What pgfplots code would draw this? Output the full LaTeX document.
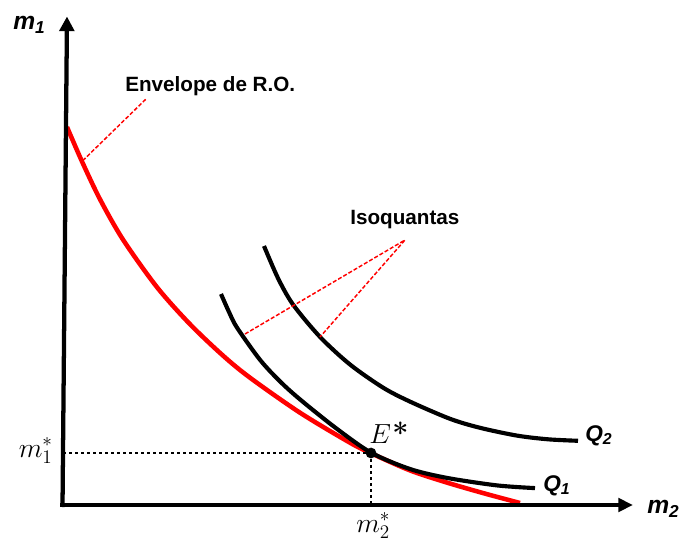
\documentclass[border=0pt]{standalone}
\usepackage{pgfplots}
\pgfplotsset{compat=1.18}
\usetikzlibrary{arrows.meta}
\usepackage{fontspec}
\setmainfont{Liberation Sans}

\definecolor{envred}{RGB}{255,0,0}

\begin{document}
\begin{tikzpicture}
\begin{axis}[
  x=75pt, y=75pt,
  xmin=0, xmax=5.8, ymin=0, ymax=4.9,
  axis lines=none, clip=false,
]
% frame of the figure
\coordinate (bl) at (axis cs:-0.63,-0.34);
\coordinate (tr) at (axis cs:6.17,5.05);

% envelope of the optimal routes
\addplot[envred, line width=3.4pt, smooth] coordinates {
  (0.04,3.78) (0.19,3.435) (0.37,3.057) (0.60,2.654) (0.94,2.178)
  (1.27,1.808) (1.60,1.494) (1.87,1.273) (2.37,0.923) (2.87,0.623)
  (3.08,0.518) (3.47,0.346) (3.84,0.224) (4.22,0.114) (4.57,0.02)
};

% isoquant Q1
\addplot[black, line width=3.1pt, smooth] coordinates {
  (1.58,2.11) (1.66,1.93) (1.74,1.774) (1.97,1.452) (2.17,1.236)
  (2.37,1.056) (2.72,0.776) (3.08,0.524) (3.47,0.36) (3.84,0.271)
  (4.34,0.196) (4.72,0.169)
};

% isoquant Q2
\addplot[black, line width=3.1pt, smooth] coordinates {
  (2.01,2.59) (2.15,2.268) (2.30,2.005) (2.57,1.681) (2.87,1.405)
  (3.20,1.174) (3.47,1.034) (3.87,0.862) (4.17,0.772) (4.54,0.694)
  (4.85,0.657) (5.15,0.642)
};

% dotted guides to the equilibrium
\addplot[black, line width=2.2pt, dash pattern=on 2.2pt off 2.3pt] coordinates {(0.0,0.52) (3.08,0.52)};
\addplot[black, line width=2.2pt, dash pattern=on 2.2pt off 2.3pt] coordinates {(3.08,0.52) (3.08,0.02)};

% axes
\addplot[black, line width=3.2pt, -{Triangle[length=11pt,width=11pt]}] coordinates {(-0.005,-0.02) (0.04,4.885)};
\addplot[black, line width=3.2pt, -{Triangle[length=11pt,width=10pt]}] coordinates {(-0.03,0) (5.70,0)};

% equilibrium point
\addplot[only marks, mark=*, mark size=3.8pt, black] coordinates {(3.08,0.52)};

% leader lines
\addplot[envred, line width=1.1pt, dash pattern=on 3pt off 1.5pt] coordinates {(0.827,4.057) (0.187,3.433)};
\addplot[envred, line width=1.1pt, dash pattern=on 3pt off 1.5pt] coordinates {(1.82,1.71) (3.42,2.65) (2.57,1.68)};

% labels
\node[anchor=base west, inner sep=0pt] at (axis cs:0.62,4.13)
  {\fontsize{15.5}{18}\selectfont\bfseries Envelope de R.O.};
\node[anchor=base west, inner sep=0pt] at (axis cs:2.87,2.80)
  {\fontsize{15.5}{18}\selectfont\bfseries Isoquantas};

\node[anchor=base west, inner sep=0pt] at (axis cs:-0.50,4.75)
  {\fontsize{18.5}{20}\selectfont\bfseries\itshape m\textsubscript{1}};
\node[anchor=base west, inner sep=0pt] at (axis cs:5.84,-0.08)
  {\fontsize{18.5}{20}\selectfont\bfseries\itshape m\textsubscript{2}};
\node[anchor=base west, inner sep=0pt] at (axis cs:5.22,0.64)
  {\fontsize{17}{20}\selectfont\bfseries\itshape Q\textsubscript{2}};
\node[anchor=base west, inner sep=0pt] at (axis cs:4.80,0.135)
  {\fontsize{17}{20}\selectfont\bfseries\itshape Q\textsubscript{1}};

\node[anchor=base west, inner sep=0pt] at (axis cs:3.06,0.62)
  {\fontsize{21.5}{24}\selectfont$E$\kern1pt{\fontspec{Latin Modern Roman}\bfseries *}};
\node[anchor=base east, inner sep=0pt] at (axis cs:-0.10,0.48)
  {\fontsize{21.5}{24}\selectfont$m_1^*$};
\node[anchor=base west, inner sep=0pt] at (axis cs:2.93,-0.27)
  {\fontsize{21.5}{24}\selectfont$m_2^*$};
\end{axis}
\pgfresetboundingbox
\path[use as bounding box] (bl) rectangle (tr);
\end{tikzpicture}
\end{document}
